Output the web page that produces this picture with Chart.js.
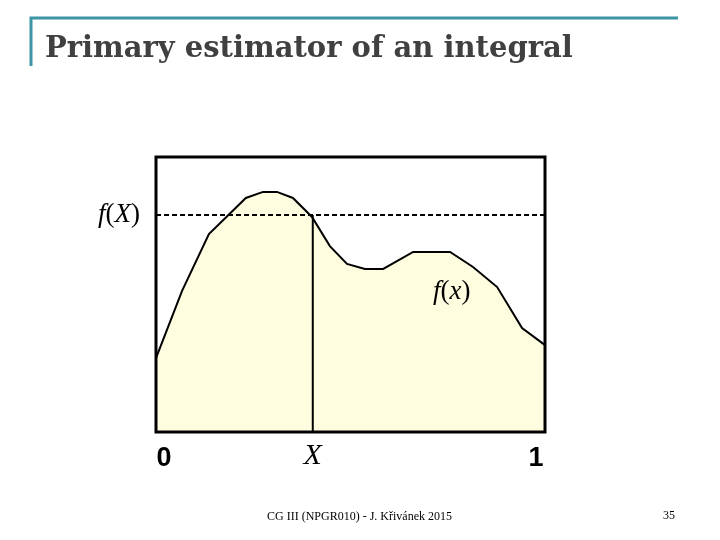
<!DOCTYPE html>
<html>
<head>
<meta charset="utf-8">
<script src="https://cdn.jsdelivr.net/npm/chart.js@4"></script>
<style>
  html, body { margin: 0; padding: 0; background: #fff; }
  #wrap { width: 720px; height: 540px; position: relative; }
</style>
</head>
<body>
<div id="wrap"><canvas id="c" width="720" height="540"></canvas></div>
<script>
// curve f(x) (x in [0,1], y relative to box height)
const curveX = [0, 0.067, 0.136, 0.231, 0.275, 0.311, 0.352, 0.401, 0.447, 0.491, 0.537, 0.584, 0.661, 0.756, 0.815, 0.877, 0.941, 1.0];
const curveY = [0.269, 0.513, 0.72, 0.851, 0.873, 0.873, 0.851, 0.782, 0.676, 0.611, 0.593, 0.593, 0.655, 0.655, 0.6, 0.527, 0.378, 0.316];

// the sample X and its value f(X)
const sampleX = 0.403;
const sampleFX = 0.789;

// axis labels under the box
const tickValues = [0, 1];
const tickLabels = ['0', '1'];

const titleText = 'Primary estimator of an integral';
const footerText = 'CG III (NPGR010) - J. Křivánek 2015';
const pageNo = '35';

const curve = curveX.map((x, i) => ({ x: x, y: curveY[i] }));

// draws a run of text pieces, each with its own font
function drawPieces(ctx, pieces, x, y, align) {
  let total = 0;
  pieces.forEach(p => { ctx.font = p.font; total += ctx.measureText(p.t).width; });
  let cx = align === 'right' ? x - total : (align === 'center' ? x - total / 2 : x);
  ctx.textAlign = 'left';
  pieces.forEach(p => {
    ctx.font = p.font;
    ctx.fillText(p.t, cx, y);
    cx += ctx.measureText(p.t).width;
  });
}

const slidePlugin = {
  id: 'slide',
  beforeDraw(chart) {
    const ctx = chart.ctx;
    ctx.save();
    ctx.fillStyle = '#fff';
    ctx.fillRect(0, 0, chart.width, chart.height);
    // teal corner bracket
    ctx.strokeStyle = '#3d95a6';
    ctx.lineWidth = 3;
    ctx.beginPath();
    ctx.moveTo(31, 66);
    ctx.lineTo(31, 18);
    ctx.lineTo(678, 18);
    ctx.stroke();
    // title
    ctx.fillStyle = '#404040';
    ctx.font = 'bold 29px "DejaVu Serif"';
    ctx.textAlign = 'left';
    ctx.textBaseline = 'alphabetic';
    ctx.fillText(titleText, 45, 57);
    ctx.restore();
  },
  afterDraw(chart) {
    const ctx = chart.ctx;
    const a = chart.chartArea;
    const xs = chart.scales.x, ys = chart.scales.y;
    ctx.save();
    // box
    ctx.strokeStyle = '#000';
    ctx.lineWidth = 3;
    ctx.strokeRect(a.left, a.top, a.right - a.left, a.bottom - a.top);

    ctx.fillStyle = '#000';
    ctx.textBaseline = 'middle';
    const it = 'italic 27px "Liberation Serif"';
    const up = '27px "Liberation Serif"';
    // f(X) on the left of the dashed line
    drawPieces(ctx, [{ t: 'f', font: it }, { t: '(', font: up }, { t: 'X', font: it }, { t: ')', font: up }],
      a.left - 16, ys.getPixelForValue(sampleFX), 'right');
    // f(x) near the curve
    drawPieces(ctx, [{ t: 'f', font: it }, { t: '(', font: up }, { t: 'x', font: it }, { t: ')', font: up }],
      xs.getPixelForValue(0.76), ys.getPixelForValue(0.51), 'center');

    // 0 and 1 under the box
    ctx.font = 'bold 27px "Liberation Sans"';
    ctx.textAlign = 'center';
    tickValues.forEach((v, i) => {
      const off = v === 0 ? 8 : -9;
      ctx.fillText(tickLabels[i], xs.getPixelForValue(v) + off, a.bottom + 27);
    });
    // X under the vertical line
    ctx.font = 'italic 30px "Liberation Serif"';
    ctx.fillText('X', xs.getPixelForValue(sampleX), a.bottom + 24);

    // footer
    ctx.font = '12px "Liberation Serif"';
    ctx.textAlign = 'left';
    ctx.fillText(footerText, 267, 517);
    ctx.fillText(pageNo, 663, 516);
    ctx.restore();
  }
};

new Chart(document.getElementById('c'), {
  type: 'line',
  data: {
    datasets: [
      {
        data: curve,
        order: 3,
        borderColor: '#000',
        borderWidth: 2,
        backgroundColor: 'rgb(255, 253, 224)',
        fill: 'origin',
        pointRadius: 0,
        tension: 0
      },
      {
        data: [{ x: 0, y: sampleFX }, { x: 1, y: sampleFX }],
        order: 1,
        borderColor: '#000',
        borderWidth: 2,
        borderDash: [5, 3],
        pointRadius: 0,
        fill: false
      },
      {
        data: [{ x: sampleX, y: 0 }, { x: sampleX, y: sampleFX }],
        order: 1,
        borderColor: '#000',
        borderWidth: 2,
        pointRadius: 0,
        fill: false
      }
    ]
  },
  options: {
    responsive: false,
    animation: false,
    devicePixelRatio: 1,
    layout: { padding: { left: 156, top: 157, right: 175, bottom: 108 } },
    scales: {
      x: { type: 'linear', min: 0, max: 1, display: false },
      y: { type: 'linear', min: 0, max: 1, display: false }
    },
    plugins: {
      legend: { display: false },
      tooltip: { enabled: false },
      title: { display: false }
    }
  },
  plugins: [slidePlugin]
});
</script>
</body>
</html>
